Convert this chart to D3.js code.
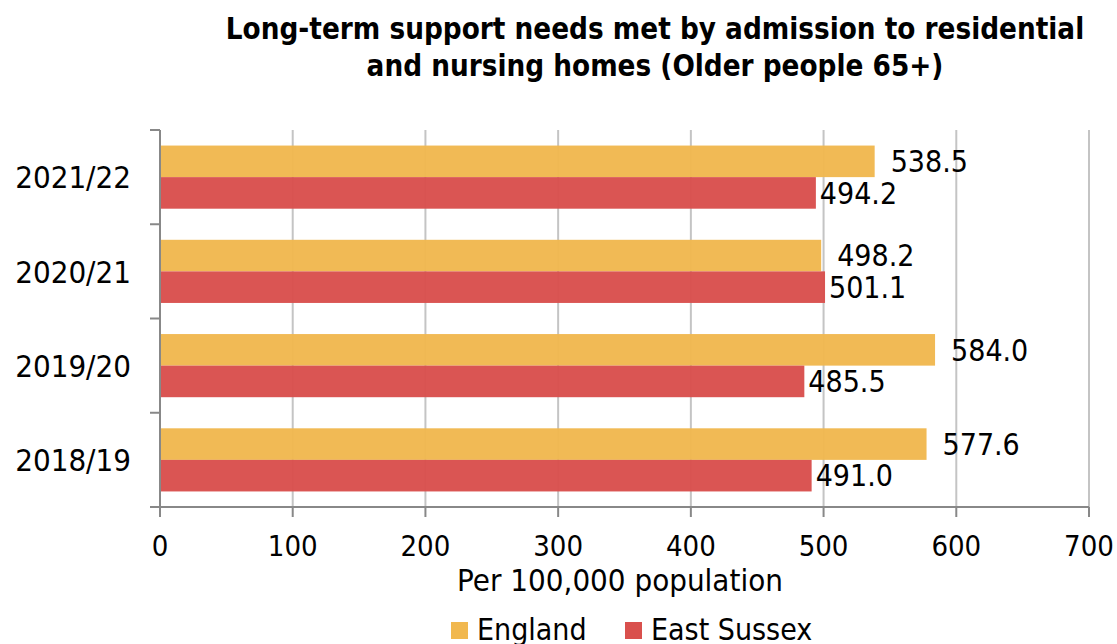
<!DOCTYPE html>
<html><head><meta charset="utf-8">
<script src="https://cdn.jsdelivr.net/npm/d3@7"></script>
<style>body{margin:0;background:#fff;} svg{display:block;font-family:"DejaVu Sans Condensed","DejaVu Sans",sans-serif;}</style>
</head><body>
<svg id="c" width="1117" height="644"></svg>
<script>
const categories = ["2021/22","2020/21","2019/20","2018/19"];
const seriesNames = ["England","East Sussex"];
const england = [538.5, 498.2, 584.0, 577.6];
const eastSussex = [494.2, 501.1, 485.5, 491.0];
const xTicks = [0,100,200,300,400,500,600,700];
const colors = ["#F1B84F","#D9504D"];
const title = ["Long-term support needs met by admission to residential","and nursing homes (Older people 65+)"];
const xTitle = "Per 100,000 population";

const svg = d3.select("#c");
const L=160, R=1089, T=130, B=507;
const x = d3.scaleLinear().domain([0,700]).range([L,R]);
const y = d3.scaleBand().domain(categories).range([T,B]).paddingInner(0.33).paddingOuter(0.165);
const yi = d3.scaleBand().domain(seriesNames).range([0,y.bandwidth()]);

// gridlines
svg.append("g").selectAll("line").data(xTicks.slice(1)).join("line")
  .attr("x1",d=>x(d)).attr("x2",d=>x(d)).attr("y1",T).attr("y2",B)
  .attr("stroke","#c4c4c4").attr("stroke-width",2);

const data = categories.map((c,i)=>({c, vals:[england[i],eastSussex[i]]}));
const g = svg.append("g");
data.forEach(d=>{
  d.vals.forEach((v,j)=>{
    g.append("rect").attr("x",x(0)).attr("y",y(d.c)+yi(seriesNames[j]))
      .attr("width",x(v)-x(0)).attr("height",yi.bandwidth())
      .attr("fill",colors[j]).attr("fill-opacity",0.97);
  });
});
// value labels
data.forEach(d=>{
  d.vals.forEach((v,j)=>{
    g.append("text").attr("x",x(v)+(j===0?16:4)).attr("y",y(d.c)+yi(seriesNames[j])+yi.bandwidth()/2)
      .attr("dy","0.36em").attr("font-size",30).attr("fill","#000").text(v.toFixed(1));
  });
});

// y axis
const yAxis = svg.append("g");
yAxis.append("line").attr("x1",L).attr("x2",L).attr("y1",T).attr("y2",B).attr("stroke","#888").attr("stroke-width",2);
const yBounds = categories.map(c=>y(c)-y.step()*y.paddingInner()/2);
yBounds.push(B);
yBounds[0]=T;
yAxis.selectAll("line.t").data(yBounds).join("line").attr("class","t")
  .attr("x1",L-10).attr("x2",L).attr("y1",d=>d).attr("y2",d=>d).attr("stroke","#888").attr("stroke-width",2);
yAxis.selectAll("text").data(categories).join("text")
  .attr("x",131).attr("y",d=>y(d)+y.bandwidth()/2).attr("dy","0.36em")
  .attr("text-anchor","end").attr("font-size",31).text(d=>d);

// x axis
const xAxis = svg.append("g");
xAxis.append("line").attr("x1",L-10).attr("x2",R).attr("y1",B).attr("y2",B).attr("stroke","#888").attr("stroke-width",2);
xAxis.selectAll("line.t").data(xTicks).join("line").attr("class","t")
  .attr("x1",d=>x(d)).attr("x2",d=>x(d)).attr("y1",B).attr("y2",B+10).attr("stroke","#888").attr("stroke-width",2);
xAxis.selectAll("text").data(xTicks).join("text")
  .attr("x",d=>x(d)).attr("y",546).attr("dy","0.36em").attr("text-anchor","middle")
  .attr("font-size",29).text(d=>d);
svg.append("text").attr("x",620).attr("y",580).attr("dy","0.36em").attr("text-anchor","middle")
  .attr("font-size",31).text(xTitle);

// title
svg.selectAll("text.title").data(title).join("text").attr("class","title")
  .attr("x",655).attr("y",(d,i)=>28+i*37).attr("dy","0.36em").attr("text-anchor","middle")
  .attr("font-size",29.3).attr("font-weight","bold").text(d=>d);

// legend
const leg = svg.append("g");
const legX = [451, 625];
seriesNames.forEach((s,i)=>{
  leg.append("rect").attr("x",legX[i]).attr("y",622).attr("width",17).attr("height",17).attr("fill",colors[i]);
  leg.append("text").attr("x",legX[i]+26).attr("y",629).attr("dy","0.36em").attr("font-size",30).text(s);
});
</script>
</body></html>
